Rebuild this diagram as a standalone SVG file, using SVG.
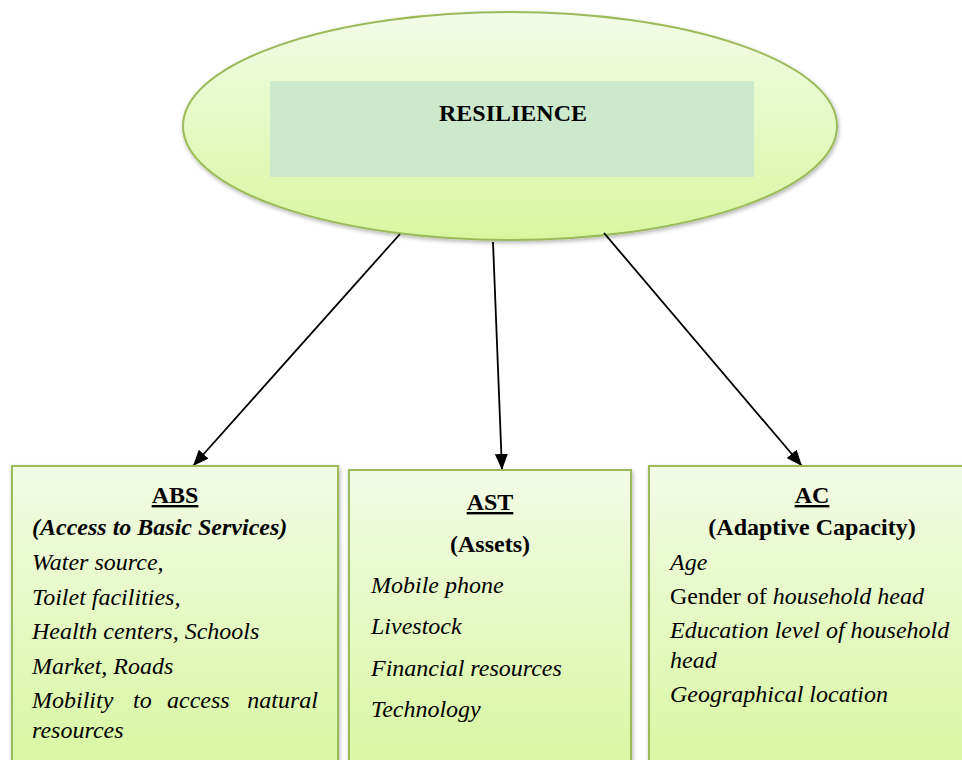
<svg xmlns="http://www.w3.org/2000/svg" width="962" height="760" viewBox="0 0 962 760">
<defs>
<linearGradient id="gBox" x1="0" y1="0" x2="0" y2="1">
<stop offset="0" stop-color="#f2fbe6"/>
<stop offset="1" stop-color="#d8f7a2"/>
</linearGradient>
<linearGradient id="gEll" x1="0" y1="0" x2="0" y2="1">
<stop offset="0" stop-color="#f3fbe8"/>
<stop offset="1" stop-color="#d8f7a0"/>
</linearGradient>
<filter id="sh" x="-5%" y="-5%" width="112%" height="115%">
<feGaussianBlur in="SourceAlpha" stdDeviation="2"/>
<feOffset dx="1" dy="2"/>
<feComponentTransfer><feFuncA type="linear" slope="0.3"/></feComponentTransfer>
<feMerge><feMergeNode/><feMergeNode in="SourceGraphic"/></feMerge>
</filter>
<marker id="arr" viewBox="0 0 10 10" refX="10" refY="5" markerWidth="16" markerHeight="13" markerUnits="userSpaceOnUse" orient="auto" preserveAspectRatio="none">
<path d="M0,0 L10,5 L0,10 z" fill="#000"/>
</marker>
</defs>
<style>
text { font-family: "Liberation Serif", "Times New Roman", serif; font-size: 24px; fill: #000; }
.b { font-weight: bold; }
.i { font-style: italic; }
.c { text-anchor: middle; }
.u { text-decoration: underline; }
.box { fill: url(#gBox); stroke: #9bbb59; stroke-width: 2; }
.con { stroke: #000; stroke-width: 1.8; fill: none; marker-end: url(#arr); }
</style>
<rect width="962" height="760" fill="#fff"/>

<g id="resilience">
<ellipse cx="510" cy="126" rx="327" ry="114" fill="url(#gEll)" stroke="#9bbb59" stroke-width="2" filter="url(#sh)"/>
<rect x="270" y="81" width="484" height="96" fill="#cce9cc"/>
<text x="513" y="121" class="b c">RESILIENCE</text>
</g>

<g id="connectors">
<line x1="400" y1="234" x2="193" y2="466" class="con"/>
<line x1="493" y1="242" x2="502" y2="470" class="con"/>
<line x1="604" y1="233" x2="802" y2="466" class="con"/>
</g>

<g id="abs">
<rect x="12" y="466" width="326" height="300" class="box" filter="url(#sh)"/>
<text x="175" y="503" class="b c u">ABS</text>
<text x="32" y="535" class="b i">(Access to Basic Services)</text>
<text x="32" y="570" class="i">Water source,</text>
<text x="32" y="605" class="i">Toilet facilities,</text>
<text x="32" y="639" class="i">Health centers, Schools</text>
<text x="32" y="674" class="i">Market, Roads</text>
<text x="32" y="708" class="i">Mobility</text>
<text x="133" y="708" class="i">to</text>
<text x="167" y="708" class="i">access</text>
<text x="318" y="708" class="i" text-anchor="end">natural</text>
<text x="32" y="738" class="i">resources</text>
</g>

<g id="ast">
<rect x="349" y="470" width="282" height="296" class="box" filter="url(#sh)"/>
<text x="490" y="510" class="b c u">AST</text>
<text x="490" y="552" class="b c">(Assets)</text>
<text x="371" y="593" class="i">Mobile phone</text>
<text x="371" y="634" class="i">Livestock</text>
<text x="371" y="676" class="i">Financial resources</text>
<text x="371" y="717" class="i">Technology</text>
</g>

<g id="ac">
<rect x="649" y="466" width="330" height="300" class="box" filter="url(#sh)"/>
<text x="812" y="503" class="b c u">AC</text>
<text x="812" y="535" class="b c">(Adaptive Capacity)</text>
<text x="670" y="570" class="i">Age</text>
<text x="670" y="604">Gender of <tspan class="i">household head</tspan></text>
<text x="670" y="638" class="i">Education level of household</text>
<text x="670" y="668" class="i">head</text>
<text x="670" y="702" class="i">Geographical location</text>
</g>
</svg>
